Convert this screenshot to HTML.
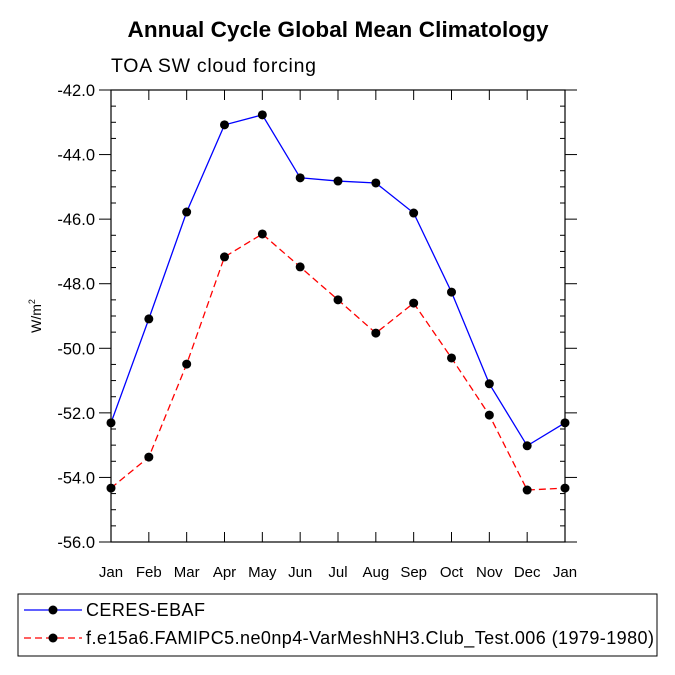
<!DOCTYPE html>
<html><head><meta charset="utf-8"><style>body{margin:0;background:#fff}svg{display:block;font-family:"Liberation Sans",Helvetica,sans-serif}</style></head>
<body>
<svg id="c" width="675" height="675" viewBox="0 0 675 675">
<text x="338" y="37" text-anchor="middle" font-size="22.5" font-weight="bold" textLength="421">Annual Cycle Global Mean Climatology</text>
<text x="111" y="72" font-size="19.5" textLength="205">TOA SW cloud forcing</text>
<text transform="translate(41,316) rotate(-90)" text-anchor="middle" font-size="14">W/m<tspan dy="-6" font-size="9">2</tspan></text>
<g id="axes"></g>
<g id="series"></g>
<g>
<rect x="18" y="594" width="639" height="62" fill="none" stroke="#000" stroke-width="1"/>
<g>
<line x1="24" y1="610" x2="82" y2="610" stroke="#00f" stroke-width="1.3"/>
<circle cx="53" cy="610" r="4.5" fill="#000"/>
<text x="86" y="616" font-size="18" textLength="119">CERES-EBAF</text></g>
<g>
<line x1="24" y1="638" x2="82" y2="638" stroke="#f00" stroke-width="1.3" stroke-dasharray="7,4"/>
<circle cx="53" cy="638" r="4.5" fill="#000"/>
<text x="86" y="644" font-size="18" textLength="568">f.e15a6.FAMIPC5.ne0np4-VarMeshNH3.Club_Test.006 (1979-1980)</text></g>
</g>
</svg>
<script>
const months=["Jan","Feb","Mar","Apr","May","Jun","Jul","Aug","Sep","Oct","Nov","Dec","Jan"];
const yTicks=[-42,-44,-46,-48,-50,-52,-54,-56];
const ceres=[-52.31,-49.09,-45.78,-43.08,-42.77,-44.72,-44.82,-44.88,-45.81,-48.26,-51.1,-53.02,-52.31];
const model=[-54.33,-53.37,-50.49,-47.17,-46.46,-47.48,-48.5,-49.53,-48.6,-50.3,-52.07,-54.39,-54.33];
const L=111,R=565,T=90,B=542,ymax=-42,ymin=-56;
const xs=i=>L+(R-L)*i/(months.length-1);
const ys=v=>T+(ymax-v)/(ymax-ymin)*(B-T);
const NS="http://www.w3.org/2000/svg";
function mk(t,a,p){const e=document.createElementNS(NS,t);for(const k in a)e.setAttribute(k,a[k]);p.appendChild(e);return e;}
const ax=document.getElementById('axes'),se=document.getElementById('series');
const fr=mk('rect',{x:L,y:T,width:R-L,height:B-T,fill:'none',stroke:'#000','stroke-width':1.2},ax);


months.forEach((m,i)=>{const x=xs(i);
mk('line',{x1:x,y1:B,x2:x,y2:B-10,stroke:'#000'},ax);
mk('line',{x1:x,y1:T,x2:x,y2:T+10,stroke:'#000'},ax);
const t=mk('text',{x:x,y:B+35,'text-anchor':'middle','font-size':15},ax);t.textContent=m;

});
for(let v=ymax;v>=ymin-1e-9;v-=0.5){const y=ys(v);const major=Math.abs(v/2-Math.round(v/2))<1e-6;
if(major){mk('line',{x1:L-12,y1:y,x2:L,y2:y,stroke:'#000'},ax);mk('line',{x1:R,y1:y,x2:R+12,y2:y,stroke:'#000'},ax);}
else{mk('line',{x1:L,y1:y,x2:L+5,y2:y,stroke:'#000'},ax);mk('line',{x1:R-5,y1:y,x2:R,y2:y,stroke:'#000'},ax);}}
yTicks.forEach(v=>{const t=mk('text',{x:L-16,y:ys(v)+6,'text-anchor':'end','font-size':16.5},ax);t.textContent=v.toFixed(1);

});
function draw(arr,col,dash,name){const p=mk('polyline',{points:arr.map((v,i)=>xs(i)+','+ys(v)).join(' '),fill:'none',stroke:col,'stroke-width':1.3,'stroke-dasharray':dash},se);


arr.forEach((v,i)=>{const c=mk('circle',{cx:xs(i),cy:ys(v),r:4.5,fill:'#000'},se);

});}
draw(ceres,'#00f','none','ceres');
draw(model,'#f00','7,4','model');
</script>
</body></html>
